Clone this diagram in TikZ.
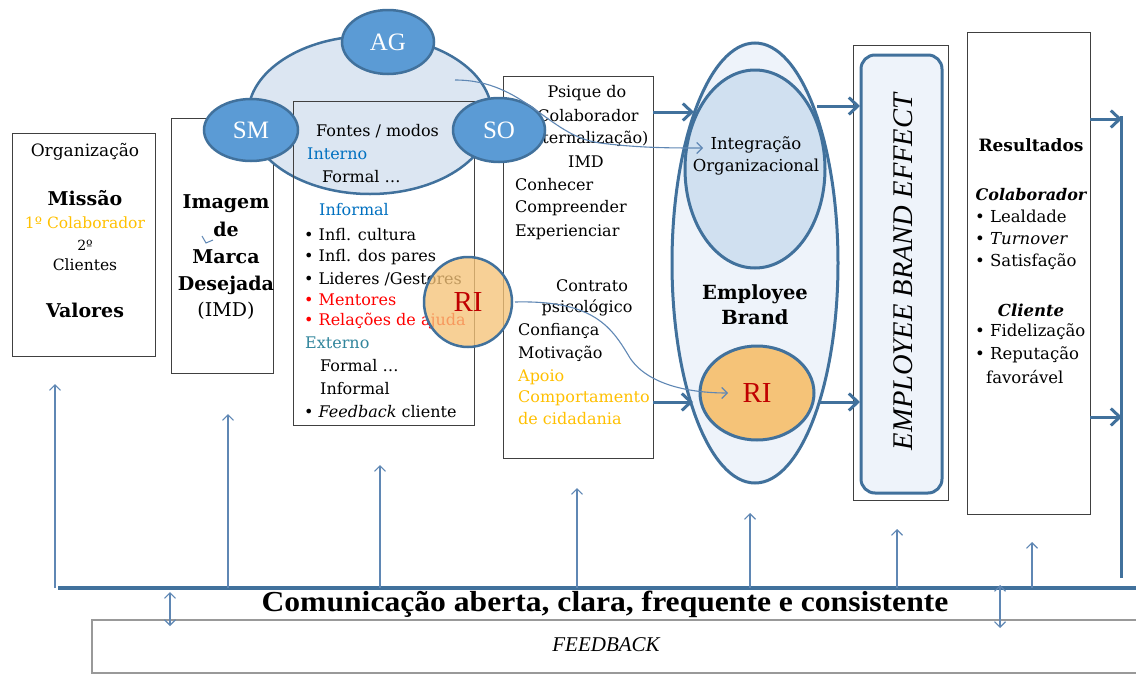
\documentclass[tikz,border=0pt]{standalone}
\usepackage{fontspec}
\setmainfont{DejaVu Serif}
\newfontfamily\lib{Liberation Serif}
\usetikzlibrary{shapes.geometric,arrows.meta}
\definecolor{bl}{RGB}{65,113,156}
\definecolor{blf}{RGB}{91,155,213}
\definecolor{lightbl}{RGB}{220,230,242}
\definecolor{paleb}{RGB}{238,243,250}
\definecolor{intb}{RGB}{208,224,240}
\definecolor{orf}{RGB}{245,195,120}
\definecolor{gold}{RGB}{255,192,0}
\definecolor{intblue}{RGB}{0,112,192}
\definecolor{tealc}{RGB}{49,133,156}
\definecolor{rired}{RGB}{192,0,0}
\definecolor{redt}{RGB}{255,0,0}
\definecolor{thinc}{RGB}{95,135,180}
\begin{document}
\begin{tikzpicture}[x=1pt,y=-1pt,
  bx/.style={draw=black!75, line width=1pt, inner sep=0pt},
  ov/.style={ellipse, inner sep=0pt, draw=bl, line width=2.5pt},
  dk/.style={ov, fill=blf, text=white, font=\lib\fontsize{25}{25}\selectfont},
  tw/.style={inner sep=0pt, anchor=west, font=\fontsize{16}{18}\selectfont},
  tcn/.style={inner sep=0pt, font=\fontsize{16}{18}\selectfont},
  ta/.style={draw=bl, line width=3pt, -{Straight Barb[length=9pt,width=17pt]}},
  tn/.style={draw=thinc, line width=1.1pt, -{Straight Barb[length=5.5pt,width=11pt]}},
  dbl/.style={draw=thinc, line width=1.1pt, {Straight Barb[length=5.5pt,width=11pt]}-{Straight Barb[length=5.5pt,width=11pt]}}
]
\useasboundingbox (0,0) rectangle (1136,675);
\clip (0,0) rectangle (1136,675);

% ---------- Organização ----------
\node[bx, minimum width=143pt, minimum height=223pt] (org) at (83.5,244.5) {};
\node[tcn, font=\fontsize{17}{18}\selectfont] (orgt) at (85,152) {Organização};
\node[tcn, font=\fontsize{19}{20}\selectfont\bfseries] (mis) at (85,198) {Missão};
\node[tcn, font=\fontsize{15.5}{16}\selectfont, text=gold] (col1) at (85,223) {1º Colaborador};
\node[tcn, font=\fontsize{14}{15}\selectfont] (n2) at (85,245) {2º};
\node[tcn, font=\fontsize{15.5}{16}\selectfont] (cli) at (85,265) {Clientes};
\node[tcn, font=\fontsize{19}{20}\selectfont\bfseries] (val) at (85,310) {Valores};

% ---------- Imagem ----------
\node[bx, minimum width=102pt, minimum height=255pt] (img) at (222,245.5) {};
\node[tcn, align=center, font=\fontsize{19}{27.3}\selectfont\bfseries] (imgt) at (226,245) {Imagem\\de\\Marca\\Desejada};
\node[tcn, font=\fontsize{19}{20}\selectfont] (imd) at (226,311) {(IMD)};
\draw[thinc, line width=1pt] (202,236) -- (206,243) -- (213,240);

% ---------- big ellipse group ----------
\node[ov, fill=lightbl, minimum width=244pt, minimum height=158pt] (grp) at (370,115) {};

% ---------- Fontes box ----------
\node[bx, minimum width=181pt, minimum height=324pt] (fon) at (383.5,263) {};
\node[tw] at (316,131) {Fontes / modos};
\node[tw, text=intblue] at (307,154) {Interno};
\node[tw] at (322,177) {Formal …};
\node[tw, text=intblue] at (319,210) {Informal};
\node[tw] at (304,235) {• Infl. cultura};
\node[tw] at (304,257) {• Infl. dos pares};
\node[tw] at (304,279) {• Lideres /Gestores};
\node[tw, text=redt] at (304,300) {• Mentores};
\node[tw, text=redt] at (304,321) {• Relações de ajuda};
\node[tw, text=tealc] at (305,343) {Externo};
\node[tw] at (320,366) {Formal …};
\node[tw] at (320,389) {Informal};
\node[tw] at (304,412) {• \textit{Feedback} cliente};

% ---------- Psique box ----------
\node[bx, fill=white, minimum width=150pt, minimum height=382pt] (psy) at (578,267) {};
\node[tcn] at (587,93) {Psique do};
\node[tcn] at (588,116) {Colaborador};
\node[tcn] at (584,139) {(Internalização)};
\node[tcn] at (586,162) {IMD};
\node[tw] at (515,185) {Conhecer};
\node[tw] at (515,208) {Compreender};
\node[tw] at (515,232) {Experienciar};
\node[tcn] at (592,286) {Contrato};
\node[tcn] at (587,308) {psicológico};
\node[tw] at (518,331) {Confiança};
\node[tw] at (518,354) {Motivação};
\node[tw, text=gold] at (518,377) {Apoio};
\node[tw, text=gold] at (518,398) {Comportamento};
\node[tw, text=gold] at (518,419) {de cidadania};

% ---------- small ovals ----------
\node[dk, minimum width=92pt, minimum height=64pt] (ag) at (388,42) {AG};
\node[dk, minimum width=94pt, minimum height=62pt] (sm) at (251,130) {SM};
\node[dk, minimum width=92pt, minimum height=64pt] (so) at (499,130) {SO};
\node[ov, fill=orf, fill opacity=0.78, text opacity=1, text=rired, font=\lib\fontsize{29}{29}\selectfont, minimum width=88pt, minimum height=90pt] (ri1) at (468,302) {RI};

% ---------- Employee Brand ----------
\node[ov, line width=3pt, fill=paleb, minimum width=166pt, minimum height=440pt] (eb) at (755,263) {};
\node[ov, line width=3pt, fill=intb, minimum width=140pt, minimum height=198pt] (int) at (755,169) {};
\node[tcn, align=center, font=\fontsize{16.5}{21.5}\selectfont] (intt) at (756,156) {Integração\\Organizacional};
\node[tcn, align=center, font=\fontsize{19.5}{25}\selectfont\bfseries] (ebt) at (755,305) {Employee\\Brand};
\node[ov, line width=3pt, fill=orf, text=rired, font=\lib\fontsize{29}{29}\selectfont, minimum width=114pt, minimum height=94pt] (ri2) at (757,393) {RI};

% ---------- EBE box ----------
\node[bx, minimum width=95pt, minimum height=455pt] (ebo) at (900.5,272.5) {};
\node[draw=bl, line width=3pt, fill=paleb, rounded corners=14pt, minimum width=81pt, minimum height=438pt, inner sep=0pt] (ebi) at (901.5,274) {};
\node[rotate=90, inner sep=0pt, font=\lib\itshape\fontsize{28.5}{29}\selectfont] (ebet) at (903,272) {EMPLOYEE BRAND EFFECT};

% ---------- Resultados ----------
\node[bx, minimum width=123pt, minimum height=482pt] (res) at (1028.5,273) {};
\node[tcn, font=\fontsize{17}{19}\selectfont\bfseries] at (1031,145) {Resultados};
\node[tcn, font=\fontsize{16}{18}\selectfont\bfseries\itshape] at (1031,195) {Colaborador};
\node[tw, font=\fontsize{16.5}{18}\selectfont] at (975,216) {• Lealdade};
\node[tw, font=\fontsize{16.5}{18}\selectfont] at (975,239) {• \textit{Turnover}};
\node[tw, font=\fontsize{16.5}{18}\selectfont] at (975,262) {• Satisfação};
\node[tcn, font=\fontsize{16.5}{18}\selectfont\bfseries\itshape] at (1031,310) {Cliente};
\node[tw, font=\fontsize{16.5}{18}\selectfont] at (975,332) {• Fidelização};
\node[tw, font=\fontsize{16.5}{18}\selectfont] at (975,355) {• Reputação};
\node[tw, font=\fontsize{16.5}{18}\selectfont] at (986,377) {favorável};

% ---------- connector end points ----------
\coordinate (pA) at (653,112);
\coordinate (ebA) at (694,112);
\coordinate (pB) at (653,402);
\coordinate (ebB) at (693,402);
\coordinate (ebC) at (817,106);
\coordinate (eboC) at (860,106);
\coordinate (ebD) at (818,402);
\coordinate (eboD) at (860,402);
\coordinate (resA) at (1090,119);
\coordinate (resB) at (1090,417);
\coordinate (rvA) at (1122,119);
\coordinate (rvB) at (1122,417);
\coordinate (rtop) at (1121,116);
\coordinate (rbot) at (1121,578);
\coordinate (gstart) at (455,80);
\coordinate (intin) at (703,148);
\coordinate (ristart) at (515,302);
\coordinate (ri2in) at (728,393);

% thick arrows
\draw[ta] (pA) -- (ebA);
\draw[ta] (pB) -- (ebB);
\draw[ta] (ebC) -- (eboC);
\draw[ta] (ebD) -- (eboD);
\draw[ta] (resA) -- (rvA);
\draw[ta] (resB) -- (rvB);
\draw[bl, line width=3pt] (rtop) -- (rbot);

% thin curved arrows
\draw[tn] (gstart) .. controls (525,80) and (548,136) .. (600,143) .. controls (640,148) and (670,148) .. (intin);
\draw[tn] (ristart) .. controls (595,300) and (612,328) .. (630,358) .. controls (648,385) and (690,393) .. (ri2in);

% ---------- bottom bar ----------
\coordinate (hl) at (58,588);
\coordinate (hr) at (1136,588);
\draw[bl, line width=3.5pt] (hl) -- (hr);
\foreach \xx/\yy/\nm in {55/384/a1, 228/414/a2, 380/465/a3, 577/488/a4, 750/513/a5, 897/529/a6, 1032/542/a7}{
  \coordinate (b\nm) at (\xx,588);
  \coordinate (t\nm) at (\xx,\yy);
  \draw[tn] (b\nm) -- (t\nm);
}
\node[draw=black!40, line width=1.2pt, fill=white, minimum width=1060pt, minimum height=53pt, inner sep=0pt] (fb) at (622,646.5) {};
\node[inner sep=0pt, font=\lib\itshape\fontsize{21}{22}\selectfont] (fbt) at (606,645) {FEEDBACK};
\node[inner sep=0pt, font=\lib\bfseries\fontsize{29}{30}\selectfont] (com) at (605,604) {\scalebox{1.09}[1]{Comunicação aberta, clara, frequente e consistente}};
\coordinate (d1t) at (170,592);
\coordinate (d1b) at (170,626);
\coordinate (d2t) at (1000,585);
\coordinate (d2b) at (1000,628);
\draw[dbl] (d1t) -- (d1b);
\draw[dbl] (d2t) -- (d2b);
\end{tikzpicture}
\end{document}
